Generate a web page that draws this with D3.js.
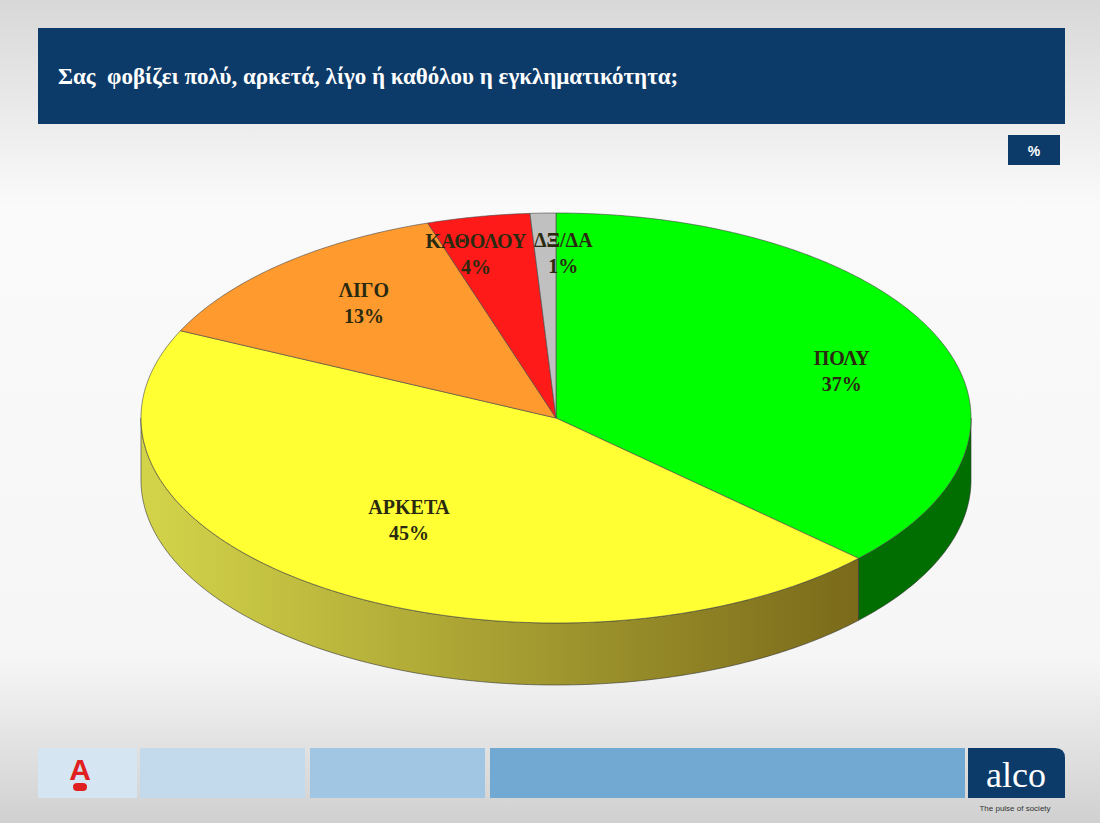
<!DOCTYPE html>
<html><head><meta charset="utf-8">
<script src="https://cdn.jsdelivr.net/npm/d3@7"></script>
<style>body{margin:0;}svg{display:block;}</style></head>
<body><svg id="c" width="1100" height="823"></svg>
<script>
const categories = ["ΠΟΛΥ","ΑΡΚΕΤΑ","ΛΙΓΟ","ΚΑΘΟΛΟΥ","ΔΞ/ΔΑ"];
const values = [37,45,13,4,1];
const topColors = ["#00ff00","#ffff33","#ff9a2e","#ff1a1a","#c0c0c0"];
const sideDark = ["#006000","#7a6a1a","#a05a10","#901010","#707070"];
const sideLight = ["#009a00","#c8c838","#e08020","#c01010","#a0a0a0"];
const title = "Σας  φοβίζει πολύ, αρκετά, λίγο ή καθόλου η εγκληματικότητα;";

const svg = d3.select("#c");
const defs = svg.append("defs");
const bg = defs.append("linearGradient").attr("id","bg").attr("x1",0).attr("x2",0).attr("y1",0).attr("y2",1);
bg.append("stop").attr("offset",0).attr("stop-color","#d8d8d8");
bg.append("stop").attr("offset",0.25).attr("stop-color","#fafafa");
bg.append("stop").attr("offset",0.8).attr("stop-color","#f6f6f6");
bg.append("stop").attr("offset",1).attr("stop-color","#d0d0d0");
svg.append("rect").attr("width",1100).attr("height",823).attr("fill","url(#bg)");

// title bar
svg.append("rect").attr("x",38).attr("y",28).attr("width",1027).attr("height",96).attr("fill","#0c3b6a");
svg.append("text").attr("x",58).attr("y",84).attr("fill","#fff").attr("font-family","Liberation Serif")
  .attr("font-weight","bold").attr("font-size",23).attr("xml:space","preserve").style("white-space","pre").text(title);
svg.append("rect").attr("x",1008).attr("y",135).attr("width",52).attr("height",30).attr("fill","#0c3b6a");
svg.append("text").attr("x",1034).attr("y",156).attr("fill","#fff").attr("text-anchor","middle")
  .attr("font-family","Liberation Sans").attr("font-weight","bold").attr("font-size",14).text("%");

// pie
const cx=556, cy=418, rx=415, ry=205, depth=62;
const pie = d3.pie().sort(null).value(d=>d)(values);
const ang = d3.scaleLinear().domain([0,2*Math.PI]).range([0,2*Math.PI]);
const pt=(a,dy=0)=>[cx+rx*Math.sin(ang(a)), cy-ry*Math.cos(ang(a))+dy];
function arcPts(a0,a1,dy){const n=Math.max(2,Math.ceil((a1-a0)/0.01));return d3.range(n+1).map(i=>pt(a0+(a1-a0)*i/n,dy));}
const line=d3.line();
const g=svg.append("g");
pie.forEach((s,i)=>{
  const a0=Math.max(s.startAngle,Math.PI/2), a1=Math.min(s.endAngle,3*Math.PI/2);
  if(a1<=a0) return;
  const gr=defs.append("linearGradient").attr("id","sg"+i).attr("gradientUnits","userSpaceOnUse")
    .attr("x1",pt(a1)[0]).attr("x2",pt(a0)[0]).attr("y1",0).attr("y2",0);
  gr.append("stop").attr("offset",0).attr("stop-color",i==1?"#d4d44a":sideLight[i]);
  gr.append("stop").attr("offset",1).attr("stop-color",sideDark[i]);
  const p=arcPts(a0,a1,0).concat(arcPts(a0,a1,depth).reverse());
  g.append("path").attr("d",line(p)+"Z").attr("fill",i==0?"#006e00":"url(#sg"+i+")").attr("stroke","#333").attr("stroke-width",0.6);
});
pie.forEach((s,i)=>{
  const p=[[cx,cy]].concat(arcPts(s.startAngle,s.endAngle,0));
  g.append("path").attr("d",line(p)+"Z").attr("fill",topColors[i]).attr("stroke","#444").attr("stroke-width",0.6);
});
const f=[0.75,0.6,0.7,0.9,0.9], dx=[0,-7,0,-10,19], dyy=[10,-4,-11,13,15];
pie.forEach((s,i)=>{
  const m=(s.startAngle+s.endAngle)/2;
  const x=cx+rx*f[i]*Math.sin(m)+dx[i], y=cy-ry*f[i]*Math.cos(m)+dyy[i];
  const t=g.append("text").attr("text-anchor","middle").attr("font-family","Liberation Serif")
    .attr("font-weight","bold").attr("font-size",20).attr("fill","#2a2a10");
  t.append("tspan").attr("x",x).attr("y",y-2).text(categories[i]);
  t.append("tspan").attr("x",x).attr("y",y+24).text(values[i]+"%");
});

const bars=[[38,99,"#d6e5f2"],[140,165,"#c3d9ec"],[310,175,"#a1c6e3"],[490,475,"#72a9d3"]];
bars.forEach(b=>svg.append("rect").attr("x",b[0]).attr("y",748).attr("width",b[1]).attr("height",50).attr("fill",b[2]));
svg.append("path").attr("d","M968,748H1055Q1065,748 1065,758V798H968Z").attr("fill","#0c3b6a");
svg.append("text").attr("x",1016).attr("y",787).attr("text-anchor","middle").attr("fill","#fff")
  .attr("font-family","Liberation Serif").attr("font-size",36).text("alco");
svg.append("text").attr("x",1015).attr("y",811).attr("text-anchor","middle").attr("fill","#333")
  .attr("font-family","Liberation Sans").attr("font-size",8).text("The pulse of society");
svg.append("text").attr("x",80).attr("y",780).attr("text-anchor","middle").attr("fill","#e02020")
  .attr("font-family","Liberation Sans").attr("font-weight","bold").attr("font-size",30).text("Α");
svg.append("rect").attr("x",73).attr("y",783).attr("width",14).attr("height",8).attr("rx",4).attr("fill","#e02020");
</script></body></html>
